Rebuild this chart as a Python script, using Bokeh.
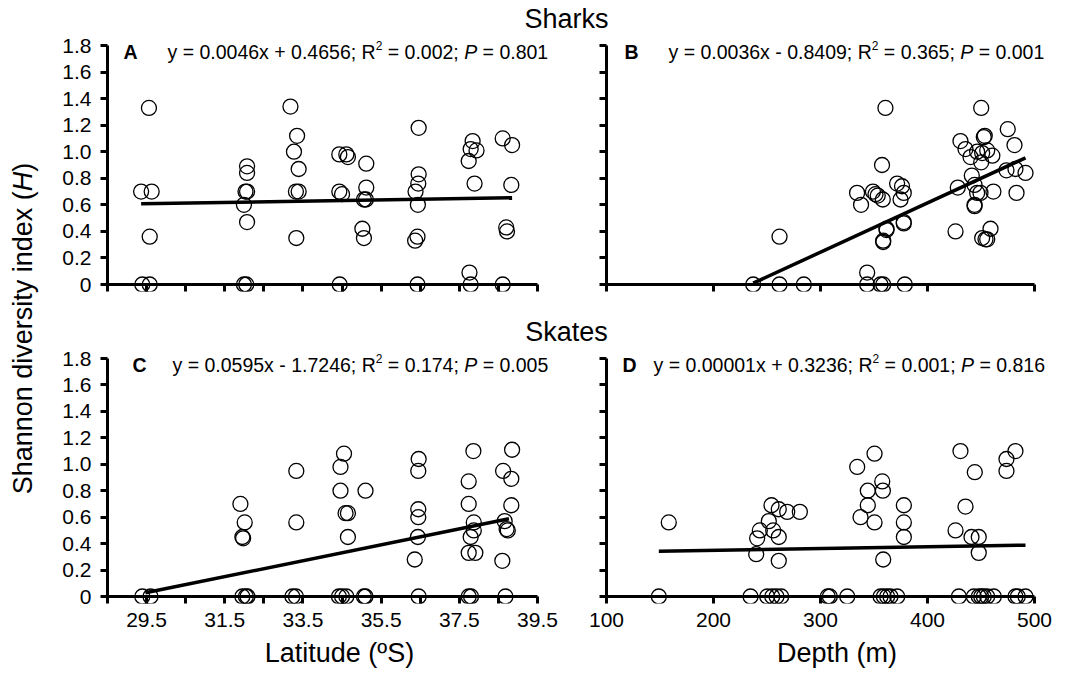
import math
from bokeh.plotting import figure
from bokeh.models import Range1d, FixedTicker, CustomJSTickFormatter, Label, LinearAxis
from bokeh.layouts import row, column
from bokeh.embed import file_html
from bokeh.resources import INLINE

FONT = "Liberation Sans"

# ---------------- data ----------------
lat_A = [29.56, 29.36, 29.63, 29.58, 29.39, 29.58,
         32.07, 32.07, 32.03, 32.07, 31.99, 32.07, 31.99, 32.05,
         33.18, 33.35, 33.27, 33.39, 33.32, 33.39, 33.33,
         34.43, 34.61, 34.65, 34.43, 34.50, 34.44,
         35.12, 35.12, 35.06, 35.11, 35.02, 35.06,
         36.46, 36.46, 36.45, 36.38, 36.44, 36.43, 36.37, 36.43,
         37.84, 37.79, 37.94, 37.74, 37.89, 37.76, 37.79,
         38.61, 38.85, 38.83, 38.70, 38.72, 38.61]
H_A = [1.33, 0.70, 0.70, 0.36, 0.0, 0.0,
       0.89, 0.84, 0.70, 0.70, 0.60, 0.47, 0.0, 0.0,
       1.34, 1.12, 1.00, 0.87, 0.70, 0.70, 0.35,
       0.98, 0.98, 0.96, 0.70, 0.68, 0.0,
       0.91, 0.73, 0.64, 0.64, 0.42, 0.35,
       1.18, 0.83, 0.76, 0.70, 0.60, 0.36, 0.33, 0.0,
       1.08, 1.02, 1.01, 0.93, 0.76, 0.09, 0.0,
       1.10, 1.05, 0.75, 0.43, 0.40, 0.0]

dep_B = [237.1, 261.7, 284.4, 261.7, 343.6, 343.6, 356.1, 358.6, 378.8,
         360.7, 357.5, 334.2, 337.9, 349.0, 351.4, 353.5, 358.2, 371.6,
         376.2, 377.8, 374.8, 377.8, 377.8, 361.7, 361.7, 358.6, 358.6,
         430.8, 435.5, 450.2, 452.6, 453.5, 446.4, 451.1, 455.8, 460.6,
         440.2, 450.2, 441.4, 428.3, 444.0, 446.4, 449.5, 461.6, 444.0,
         444.0, 426.2, 458.9, 451.1, 454.2, 455.8,
         475.0, 481.3, 473.8, 482.2, 491.6, 483.2]
H_B = [0.0, 0.0, 0.0, 0.36, 0.09, 0.0, 0.0, 0.0, 0.0,
       1.33, 0.90, 0.69, 0.60, 0.70, 0.68, 0.67, 0.64, 0.76,
       0.74, 0.69, 0.64, 0.47, 0.46, 0.41, 0.42, 0.33, 0.32,
       1.08, 1.02, 1.33, 1.11, 1.12, 1.00, 0.99, 1.01, 0.97,
       0.96, 0.92, 0.82, 0.73, 0.75, 0.69, 0.69, 0.70, 0.59,
       0.60, 0.40, 0.42, 0.35, 0.34, 0.34,
       1.17, 1.05, 0.86, 0.87, 0.84, 0.69]

lat_C = [29.39, 29.60,
         31.90, 32.01, 31.95, 31.97, 31.95, 32.04, 32.08,
         33.33, 33.33, 33.23, 33.32,
         34.55, 34.46, 34.46, 34.59, 34.65, 34.65, 34.42, 34.50, 34.61,
         35.10, 35.06, 35.10,
         36.46, 36.45, 36.45, 36.45, 36.44, 36.36, 36.46,
         37.86, 37.74, 37.74, 37.87, 37.87, 37.79, 37.74, 37.91, 37.74, 37.80,
         38.85, 38.62, 38.83, 38.83, 38.66, 38.71, 38.74, 38.60, 38.68]
H_C = [0.0, 0.0,
       0.70, 0.56, 0.45, 0.44, 0.0, 0.0, 0.0,
       0.95, 0.56, 0.0, 0.0,
       1.08, 0.98, 0.80, 0.63, 0.63, 0.45, 0.0, 0.0, 0.0,
       0.80, 0.0, 0.0,
       1.04, 0.95, 0.66, 0.60, 0.45, 0.28, 0.0,
       1.10, 0.87, 0.70, 0.56, 0.50, 0.45, 0.33, 0.33, 0.0, 0.0,
       1.11, 0.95, 0.89, 0.69, 0.57, 0.51, 0.50, 0.27, 0.0]

dep_D = [148.9, 158.2,
         234.6, 250.2, 254.9, 258.9, 263.3,
         239.9, 240.8, 243.3, 251.7, 255.8, 254.2, 261.0, 261.0, 261.0, 268.9, 280.7,
         306.8, 308.7, 325.0,
         334.3, 350.5, 357.7, 358.3, 344.2, 344.2, 337.4, 350.5, 358.6,
         356.1, 359.2, 362.3, 365.4, 371.7,
         377.9, 377.9, 377.9,
         429.3, 443.3, 447.9, 450.2, 452.6, 455.8, 462.0, 482.2, 484.4, 491.6,
         430.8, 444.2, 435.5, 426.2, 441.1, 447.9, 447.9,
         473.8, 482.2, 473.8]
H_D = [0.0, 0.56,
       0.0, 0.0, 0.0, 0.0, 0.0,
       0.32, 0.44, 0.50, 0.57, 0.50, 0.69, 0.66, 0.45, 0.27, 0.64, 0.64,
       0.0, 0.0, 0.0,
       0.98, 1.08, 0.87, 0.80, 0.80, 0.69, 0.60, 0.56, 0.28,
       0.0, 0.0, 0.0, 0.0, 0.0,
       0.69, 0.56, 0.45,
       0.0, 0.0, 0.0, 0.0, 0.0, 0.0, 0.0, 0.0, 0.0, 0.0,
       1.10, 0.94, 0.68, 0.50, 0.45, 0.45, 0.33,
       1.04, 1.10, 0.95]

# fitted lines (end points as drawn)
fit_A_x = [29.36, 38.85]; fit_A_y = [0.608, 0.653]
fit_B_x = [237.1, 491.6]; fit_B_y = [0.010, 0.954]
fit_C_x = [29.47, 38.77]; fit_C_y = [0.028, 0.588]
fit_D_x = [148.9, 491.6]; fit_D_y = [0.343, 0.388]

eq_A = ["y = 0.0046x + 0.4656; R", "2", " = 0.002; ", "P", " = 0.801"]
eq_B = ["y = 0.0036x - 0.8409; R", "2", " = 0.365; ", "P", " = 0.001"]
eq_C = ["y = 0.0595x - 1.7246; R", "2", " = 0.174; ", "P", " = 0.005"]
eq_D = ["y = 0.00001x + 0.3236; R", "2", " = 0.001; ", "P", " = 0.816"]

y_ticks = [0, 0.2, 0.4, 0.6, 0.8, 1.0, 1.2, 1.4, 1.6, 1.8]
lat_major = [29.5, 31.5, 33.5, 35.5, 37.5, 39.5]
lat_minor = [28.5, 30.5, 32.5, 34.5, 36.5, 38.5]
depth_ticks = [100, 200, 300, 400, 500]

# ---------------- helpers ----------------
W = {' ': 278, '=': 584, '+': 584, '-': 333, '.': 278, ';': 278, 'x': 500,
     'y': 500, 'R': 722, 'P': 667, 'H': 722, '(': 333, ')': 333, 'S': 667,
     'h': 556, 'a': 556, 'n': 556, 'o': 556, 'd': 556, 'i': 222, 'v': 500,
     'e': 556, 'r': 333, 's': 500, 't': 278}
for _c in "0123456789":
    W[_c] = 556


def tw(s, size):
    return sum(W.get(c, 556) for c in s) / 1000.0 * size


EQ_SIZE = 19.5
SUP_SIZE = 12
EQ_DY = -6


def add_equation(p, x0, y0, xoff, letter, letter_off, parts):
    p.add_layout(Label(x=x0, y=y0, x_offset=letter_off, y_offset=EQ_DY, text=letter,
                       text_font=FONT, text_font_size=f"{EQ_SIZE}px", text_font_style="bold",
                       text_baseline="alphabetic", text_align="left", text_color="black"))
    cur = xoff
    for i, part in enumerate(parts):
        sup = (i == 1)
        size = SUP_SIZE if sup else EQ_SIZE
        style = "italic" if i == 3 else "normal"
        lead = len(part) - len(part.lstrip(" "))
        txt = part.strip(" ")
        p.add_layout(Label(x=x0, y=y0, x_offset=cur + tw(" " * lead, size),
                           y_offset=EQ_DY + (6 if sup else 0), text=txt,
                           text_font=FONT, text_font_size=f"{size}px", text_font_style=style,
                           text_baseline="alphabetic", text_align="left", text_color="black"))
        cur += tw(part, size)


# layout scales (pixels per data unit)
PX_LAT = 430 / 11.0
PX_DEP = 428 / 400.0
PY_TOP = 239 / 1.8
PY_BOT = 238 / 1.8


def make_panel(x_axis_range, px_per_x, frame_w, py_per_y, above_px, below_px,
               xmajor, xminor, width, height, left, bottom,
               show_xlabels, show_ylabels, xlabel, xfmt):
    x0, x1 = x_axis_range
    p = figure(width=width, height=height,
               x_range=Range1d(x0, x0 + frame_w / px_per_x),
               y_range=Range1d(-below_px / py_per_y, 1.8 + above_px / py_per_y),
               output_backend="svg", toolbar_location=None,
               min_border_left=left, min_border_right=0,
               min_border_top=0, min_border_bottom=bottom)
    p.outline_line_color = None
    p.xgrid.visible = False
    p.ygrid.visible = False
    p.background_fill_color = "white"
    p.border_fill_color = "white"
    xa = p.xaxis[0]
    ya = p.yaxis[0]
    xa.ticker = FixedTicker(ticks=xmajor, minor_ticks=xminor)
    xa.bounds = (x0, x1)
    ya.ticker = FixedTicker(ticks=y_ticks)
    ya.bounds = (0, 1.8)
    for ax in (xa, ya):
        ax.axis_line_width = 3
        ax.axis_line_color = "black"
        ax.major_tick_line_width = 3
        ax.major_tick_line_color = "black"
        ax.minor_tick_line_width = 3
        ax.minor_tick_line_color = "black"
        ax.major_label_text_font = FONT
        ax.major_label_text_font_size = "21px"
        ax.major_label_text_color = "black"
        ax.axis_label_text_font = FONT
        ax.axis_label_text_font_size = "27px"
        ax.axis_label_text_font_style = "normal"
        ax.axis_label_text_color = "black"
    # x axis: ticks hang from the zero line down to the frame bottom
    xa.axis_line_color = None
    xa.major_tick_in = below_px
    xa.major_tick_out = 0
    xa.minor_tick_in = below_px
    xa.minor_tick_out = 0
    ya.major_tick_in = 0
    ya.major_tick_out = 7
    ya.major_label_standoff = 9
    if show_xlabels:
        xa.formatter = CustomJSTickFormatter(code=xfmt)
        xa.major_label_standoff = 9
        xa.axis_label = xlabel
        xa.axis_label_standoff = 8
    else:
        xa.formatter = CustomJSTickFormatter(code="return ''")
        xa.major_label_text_font_size = "0px"
        xa.major_label_standoff = 0
    if show_ylabels:
        ya.formatter = CustomJSTickFormatter(code="return tick == 0 ? '0' : tick.toFixed(1)")
    else:
        ya.formatter = CustomJSTickFormatter(code="return ''")
        ya.major_label_text_font_size = "0px"
    # zero line of the x axis
    zl = LinearAxis(fixed_location=0, bounds=(x0, x1), ticker=FixedTicker(ticks=[]),
                    axis_line_width=3, axis_line_color="black",
                    major_tick_line_color=None, minor_tick_line_color=None,
                    major_label_text_font_size="0px", major_label_standoff=0,
                    formatter=CustomJSTickFormatter(code="return ''"))
    p.add_layout(zl, "below")
    return p


LAT_FMT = "return tick.toFixed(1)"
DEP_FMT = "return tick.toFixed(0)"

# vertical layout (pixels)
T1_H = 33
TOP_H = 283
T2_H = 30
BOT_H = 328

pA = make_panel((28.5, 39.5), PX_LAT, 464, PY_TOP, 12, 7, lat_major, lat_minor,
                521, TOP_H, 57, 25, False, True, "", LAT_FMT)
pB = make_panel((100, 500), PX_DEP, 461, PY_TOP, 12, 7, depth_ticks, [],
                496, TOP_H, 35, 25, False, False, "", DEP_FMT)
pC = make_panel((28.5, 39.5), PX_LAT, 464, PY_BOT, 12, 7, lat_major, lat_minor,
                521, BOT_H, 57, 71, True, True, "Latitude (ºS)", LAT_FMT)
pD = make_panel((100, 500), PX_DEP, 461, PY_BOT, 12, 7, depth_ticks, [],
                496, BOT_H, 35, 71, True, False, "Depth (m)", DEP_FMT)

for p, xs, ys, fx, fy in ((pA, lat_A, H_A, fit_A_x, fit_A_y),
                          (pB, dep_B, H_B, fit_B_x, fit_B_y),
                          (pC, lat_C, H_C, fit_C_x, fit_C_y),
                          (pD, dep_D, H_D, fit_D_x, fit_D_y)):
    p.line(fx, fy, line_width=3.5, line_color="black")
    p.scatter(xs, ys, marker="circle", size=15, fill_color=None,
              line_color="black", line_width=1.3)

add_equation(pA, 28.5, 1.8, 60, "A", 16, eq_A)
add_equation(pB, 100, 1.8, 62, "B", 18, eq_B)
add_equation(pC, 28.5, 1.8, 65, "C", 25, eq_C)
add_equation(pD, 100, 1.8, 47, "D", 16, eq_D)


# ---------------- titles and y label ----------------
def blank(width, height):
    f = figure(width=width, height=height, x_range=Range1d(0, width), y_range=Range1d(0, height),
               output_backend="svg", toolbar_location=None, min_border=0,
               x_axis_type=None, y_axis_type=None)
    f.outline_line_color = None
    f.background_fill_color = "white"
    f.border_fill_color = "white"
    return f


t1 = blank(1017, T1_H)
t1.add_layout(Label(x=516, y=15, text="Sharks", text_font=FONT, text_font_size="27px",
                    text_align="center", text_baseline="alphabetic", text_color="black"))
t2 = blank(1017, T2_H)
t2.add_layout(Label(x=516, y=15, text="Skates", text_font=FONT, text_font_size="27px",
                    text_align="center", text_baseline="alphabetic", text_color="black"))

TOTAL_H = T1_H + TOP_H + T2_H + BOT_H
yl = blank(50, TOTAL_H)
YL_SIZE = 27
ylab_parts = ["Shannon diversity index (", "H", ")"]
total = sum(tw(s, YL_SIZE) for s in ylab_parts)
ycur = (TOTAL_H - 328) - total / 2.0
for i, s in enumerate(ylab_parts):
    yl.add_layout(Label(x=22, y=ycur, text=s, angle=math.pi / 2, text_font=FONT,
                        text_font_size=f"{YL_SIZE}px",
                        text_font_style="italic" if i == 1 else "normal",
                        text_align="left", text_baseline="middle", text_color="black"))
    ycur += tw(s, YL_SIZE)

layout = row(yl, column(t1, row(pA, pB), t2, row(pC, pD)))

open("out.html", "w").write(file_html(layout, INLINE))
